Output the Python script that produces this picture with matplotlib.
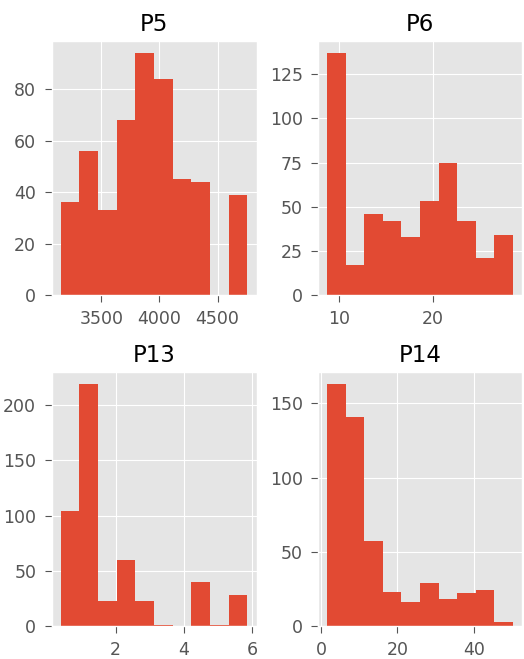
import matplotlib
matplotlib.use("Agg")
import matplotlib.pyplot as plt
import numpy as np

plt.style.use("ggplot")

# bin edges (10 bins each) and counts
p5_edges = np.linspace(3151, 4755, 11)
p5_counts = [36, 56, 33, 68, 94, 84, 45, 44, 0, 39]

p6_edges = np.linspace(8.7, 28.6, 11)
p6_counts = [137, 17, 46, 42, 33, 53, 75, 42, 21, 34]

p13_edges = np.linspace(0.40, 5.85, 11)
p13_counts = [104, 219, 23, 60, 23, 1, 0, 40, 1, 28]

p14_edges = np.linspace(1.66, 50.1, 11)
p14_counts = [163, 141, 57, 23, 16, 29, 18, 22, 24, 3]

titles = ["P5", "P6", "P13", "P14"]
xticks = [[3500, 4000, 4500], [10, 20], [2, 4, 6], [0, 20, 40]]
yticks = [[0, 20, 40, 60, 80], [0, 25, 50, 75, 100, 125],
          [0, 50, 100, 150, 200], [0, 50, 100, 150]]

W, H = 524, 659
fig = plt.figure(figsize=(W / 100, H / 100), dpi=100)


def px_axes(left, top, width, height):
    return fig.add_axes([left / W, (H - top - height) / H, width / W, height / H])


# axes boxes in pixels: left, top, width, height
boxes = [(51.5, 41, 205, 254), (318, 41, 204, 254),
         (51.5, 372, 205, 254), (318, 372, 204, 254)]

data = [(p5_edges, p5_counts), (p6_edges, p6_counts),
        (p13_edges, p13_counts), (p14_edges, p14_counts)]

for i, (edges, counts) in enumerate(data):
    ax = px_axes(*boxes[i])
    ax.hist(edges[:-1], bins=edges, weights=counts, color="#E24A33")
    ax.set_title(titles[i], fontsize=16.5, pad=7)
    ax.set_xticks(xticks[i])
    ax.set_yticks(yticks[i])
    ax.tick_params(labelsize=12.5, colors="#555555", length=5, pad=6)

fig.savefig("out.png", dpi=100)
